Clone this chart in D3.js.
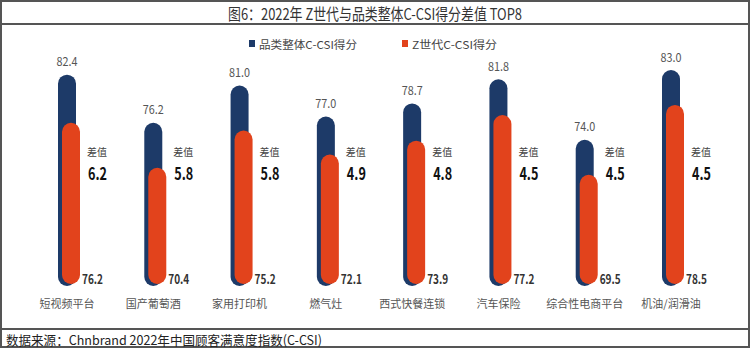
<!DOCTYPE html>
<html>
<head>
<meta charset="utf-8">
<script src="https://cdn.jsdelivr.net/npm/d3@7/dist/d3.min.js"></script>
<style>
  html, body { margin: 0; padding: 0; background: #fff; }
  svg { display: block; }
  text { font-family: "Noto Sans CJK SC", "Noto Sans", sans-serif; }
</style>
</head>
<body>
<svg id="chart" width="750" height="348"></svg>
<script>
// Categories and scores
const categories = ["短视频平台", "国产葡萄酒", "家用打印机", "燃气灶", "西式快餐连锁", "汽车保险", "综合性电商平台", "机油/润滑油"];
const overallScores = [82.4, 76.2, 81.0, 77.0, 78.7, 81.8, 74.0, 83.0];
const genZScores = [76.2, 70.4, 75.2, 72.1, 73.9, 77.2, 69.5, 78.5];
const gapLabels = ["6.2", "5.8", "5.8", "4.9", "4.8", "4.5", "4.5", "4.5"];
const seriesNames = ["品类整体C-CSI得分", "Z世代C-CSI得分"];
const titleText = "图6：2022年 Z世代与品类整体C-CSI得分差值 TOP8";
const sourceText = "数据来源：Chnbrand 2022年中国顾客满意度指数(C-CSI)";

const BLUE = "#1d3a68";
const ORANGE = "#e2431c";
const numFont = "'DejaVu Sans Condensed', 'Liberation Sans Narrow', 'DejaVu Sans', sans-serif";

const svg = d3.select("#chart");
const W = 750, H = 348;

// Frames: title box, chart box, source box
const frame = svg.append("g").attr("fill", "none").attr("stroke", "#555");
frame.append("rect").attr("x", 1).attr("y", 1).attr("width", W - 2).attr("height", H - 2).attr("stroke-width", 2);
frame.append("line").attr("x1", 0).attr("x2", W).attr("y1", 24).attr("y2", 24).attr("stroke-width", 2);
frame.append("line").attr("x1", 0).attr("x2", W).attr("y1", 329).attr("y2", 329).attr("stroke-width", 2);

svg.append("text")
  .attr("x", 375).attr("y", 13)
  .attr("text-anchor", "middle").attr("dominant-baseline", "central")
  .attr("font-size", 16).attr("fill", "#333")
  .attr("textLength", 294).attr("lengthAdjust", "spacingAndGlyphs")
  .text(titleText);

svg.append("text")
  .attr("x", 6).attr("y", 339)
  .attr("dominant-baseline", "central")
  .attr("font-size", 13).attr("fill", "#222")
  .attr("textLength", 316).attr("lengthAdjust", "spacingAndGlyphs")
  .text(sourceText);

// Legend
const legend = svg.append("g");
const legendItems = [
  { name: seriesNames[0], color: BLUE, x: 249, len: 98 },
  { name: seriesNames[1], color: ORANGE, x: 402, len: 85 }
];
legendItems.forEach(d => {
  legend.append("rect").attr("x", d.x).attr("y", 40).attr("width", 6).attr("height", 7).attr("fill", d.color);
  legend.append("text").attr("x", d.x + 10).attr("y", 44)
    .attr("dominant-baseline", "central").attr("font-size", 11).attr("fill", "#444")
    .attr("textLength", d.len).attr("lengthAdjust", "spacingAndGlyphs")
    .text(d.name);
});

// Scales
const x = d3.scalePoint().domain(categories).range([67, 671]);
const y = d3.scaleLinear().domain([55.3, 83]).range([285, 70]);
const barW = 18, shift = 4;

const rows = categories.map((c, i) => ({ c, blue: overallScores[i], orange: genZScores[i], gap: gapLabels[i] }));
const g = svg.append("g");
const items = g.selectAll("g.item").data(rows).join("g").attr("class", "item");

// Overall score pill
items.append("rect")
  .attr("x", d => x(d.c) - barW / 2)
  .attr("y", d => y(d.blue))
  .attr("width", barW)
  .attr("height", d => y.range()[0] + 1 - y(d.blue))
  .attr("rx", barW / 2).attr("ry", barW / 2)
  .attr("fill", BLUE);

// Gen-Z score pill, offset to the right
items.append("rect")
  .attr("x", d => x(d.c) - barW / 2 + shift)
  .attr("y", d => y(d.orange))
  .attr("width", barW)
  .attr("height", d => y.range()[0] - 1 - y(d.orange))
  .attr("rx", barW / 2).attr("ry", barW / 2)
  .attr("fill", ORANGE);

// Overall score labels
items.append("text")
  .attr("x", d => x(d.c))
  .attr("y", d => y(d.blue) - 14)
  .attr("text-anchor", "middle").attr("dominant-baseline", "central")
  .attr("font-family", numFont).attr("font-size", 12).attr("fill", "#555")
  .attr("textLength", 21).attr("lengthAdjust", "spacingAndGlyphs")
  .text(d => d.blue.toFixed(1));

// Gen-Z score labels at the base
items.append("text")
  .attr("x", d => x(d.c) + 15)
  .attr("y", 278)
  .attr("dominant-baseline", "central")
  .attr("font-family", numFont).attr("font-weight", "bold").attr("font-size", 13).attr("fill", "#333")
  .attr("textLength", 21).attr("lengthAdjust", "spacingAndGlyphs")
  .text(d => d.orange.toFixed(1));

// Gap annotation
items.append("text")
  .attr("x", d => x(d.c) + 20)
  .attr("y", 151)
  .attr("dominant-baseline", "central")
  .attr("font-size", 10).attr("fill", "#444")
  .text("差值");
items.append("text")
  .attr("x", d => x(d.c) + 21)
  .attr("y", 172)
  .attr("dominant-baseline", "central")
  .attr("font-family", numFont).attr("font-weight", "bold").attr("font-size", 17).attr("fill", "#111")
  .attr("textLength", 19).attr("lengthAdjust", "spacingAndGlyphs")
  .text(d => d.gap);

// Category labels
items.append("text")
  .attr("x", d => x(d.c))
  .attr("y", 303)
  .attr("text-anchor", "middle").attr("dominant-baseline", "central")
  .attr("font-size", 11).attr("fill", "#555")
  .text(d => d.c);
</script>
</body>
</html>
